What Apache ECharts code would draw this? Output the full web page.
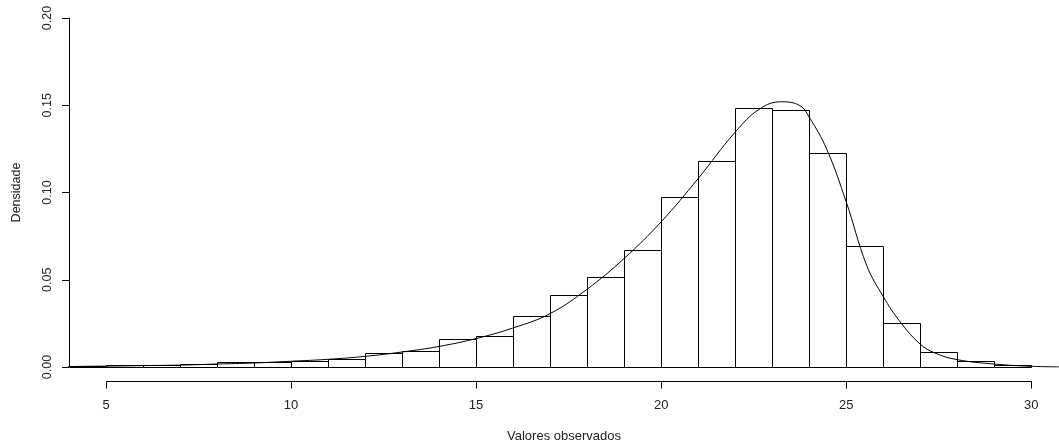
<!DOCTYPE html>
<html>
<head>
<meta charset="utf-8">
<script src="https://cdn.jsdelivr.net/npm/echarts@6/dist/echarts.min.js"></script>
<style>
  html, body { margin: 0; padding: 0; background: #fff; }
  #chart { width: 1059px; height: 448px; }
</style>
</head>
<body>
<div id="chart"></div>
<script>
// Histogram bin edges (width 1) and densities
const binStarts = [4, 5, 6, 7, 8, 9, 10, 11, 12, 13, 14, 15, 16, 17, 18, 19, 20, 21, 22, 23, 24, 25, 26, 27, 28, 29];
const binDensity = [0.0003, 0.0010, 0.0013, 0.0015, 0.0029, 0.0027, 0.0032, 0.0046, 0.0082, 0.0091,
  0.0160, 0.0180, 0.0291, 0.0414, 0.0516, 0.0671, 0.0976, 0.1182, 0.1482, 0.1473,
  0.1227, 0.0696, 0.0251, 0.0086, 0.0032, 0.0010];
const binWidth = 1;

// Kernel density estimate, sampled along x
const curveX = [3.8, 4.5, 5.0, 6.0, 7.0, 8.0, 9.0, 10.0, 11.0, 12.0, 13.0, 14.0, 15.0, 16.0,
  17.0, 18.0, 19.0, 20.0, 21.0, 22.0, 22.67, 23.25, 23.75, 24.0, 24.47, 25.0, 25.55, 26.0, 26.45, 27.0, 27.4,
  28.0, 29.0, 30.0, 30.75];
const curveY = [0.0002, 0.0004, 0.0005, 0.0008, 0.0011, 0.0017, 0.0023, 0.0033, 0.0044, 0.0061, 0.0086, 0.0118, 0.0163, 0.0224,
  0.0306, 0.0446, 0.0622, 0.0832, 0.1080, 0.1346, 0.1480, 0.1520, 0.1498, 0.1432, 0.1250, 0.0947, 0.0584, 0.0404, 0.0261, 0.0131, 0.0080,
  0.0042, 0.0017, 0.0004, 0.0001];

const xTicks = [5, 10, 15, 20, 25, 30];
const yTicks = [0, 0.05, 0.10, 0.15, 0.20];

const FONT = 'Liberation Sans, Arial, sans-serif';
const INK = '#000';
const TEXT = '#222';
const AXIS_OFFSET = 14;
const TICK_LEN = 7;

const histData = binStarts.map((s, i) => [s, s + binWidth, binDensity[i]]);
const curveData = curveX.map((x, i) => [x, curveY[i]]);

const chart = echarts.init(document.getElementById('chart'), null, { renderer: 'canvas' });

chart.setOption({
  animation: false,
  backgroundColor: '#fff',
  grid: { left: 69, right: 0, top: 18, bottom: 79, containLabel: false },
  xAxis: {
    type: 'value',
    min: 4,
    max: 30.75,
    offset: AXIS_OFFSET,
    name: 'Valores observados',
    nameLocation: 'middle',
    nameGap: 49,
    nameTextStyle: { color: TEXT, fontFamily: FONT, fontSize: 13 },
    axisLine: { show: false },
    axisTick: { show: false },
    axisLabel: { customValues: xTicks, color: TEXT, fontFamily: FONT, fontSize: 13, margin: 18 },
    splitLine: { show: false }
  },
  yAxis: {
    type: 'value',
    min: 0,
    max: 0.2,
    name: 'Densidade',
    nameLocation: 'middle',
    nameGap: 46,
    nameRotate: 90,
    nameTextStyle: { color: TEXT, fontFamily: FONT, fontSize: 12.5 },
    axisLine: { show: true, lineStyle: { color: INK, width: 1 } },
    axisTick: { show: true, length: TICK_LEN, customValues: yTicks, lineStyle: { color: INK, width: 1 } },
    axisLabel: {
      customValues: yTicks,
      rotate: 90,
      color: TEXT,
      fontFamily: FONT,
      fontSize: 12.5,
      margin: 15,
      formatter: v => v.toFixed(2)
    },
    splitLine: { show: false }
  },
  series: [
    {
      type: 'custom',
      name: 'histograma',
      data: histData,
      encode: { x: [0, 1], y: 2 },
      renderItem: function (params, api) {
        const p0 = api.coord([api.value(0), 0]);
        const p1 = api.coord([api.value(1), api.value(2)]);
        return {
          type: 'rect',
          shape: {
            x: Math.round(p0[0]) + 0.5,
            y: Math.round(p1[1]) + 0.5,
            width: Math.round(p1[0]) - Math.round(p0[0]),
            height: Math.round(p0[1]) - Math.round(p1[1])
          },
          style: { fill: '#fff', stroke: INK, lineWidth: 1 }
        };
      },
      z: 2
    },
    {
      type: 'line',
      name: 'densidade',
      data: curveData,
      smooth: 0.4,
      showSymbol: false,
      clip: false,
      lineStyle: { color: INK, width: 1 },
      z: 3
    }
  ]
});

// Horizontal axis: line over the labelled range plus downward ticks, below the plot
const axisY = Math.round(chart.convertToPixel({ gridIndex: 0 }, [xTicks[0], 0])[1]) + AXIS_OFFSET + 0.5;
const tickX = xTicks.map(v => Math.round(chart.convertToPixel({ gridIndex: 0 }, [v, 0])[0]) + 0.5);
const axisGraphics = [{
  type: 'line',
  shape: { x1: tickX[0], y1: axisY, x2: tickX[tickX.length - 1], y2: axisY },
  style: { stroke: INK, lineWidth: 1 },
  z: 10
}].concat(tickX.map(x => ({
  type: 'line',
  shape: { x1: x, y1: axisY, x2: x, y2: axisY + TICK_LEN },
  style: { stroke: INK, lineWidth: 1 },
  z: 10
})));
chart.setOption({ graphic: axisGraphics });
</script>
</body>
</html>
